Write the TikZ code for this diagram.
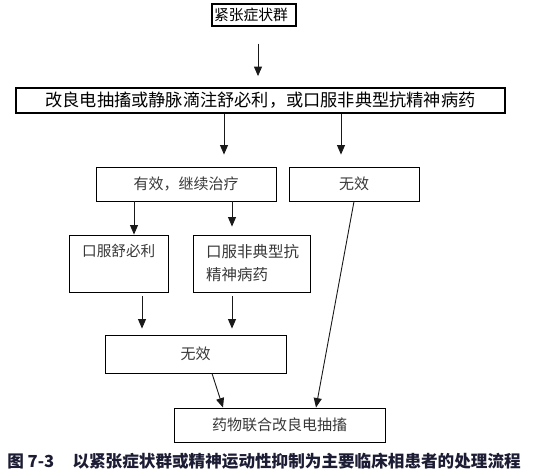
\documentclass[tikz,border=0pt]{standalone}
\usepackage{fontspec}
\setmainfont{Noto Sans CJK SC}
\newfontfamily\cjk{Noto Sans CJK SC}
\usetikzlibrary{arrows.meta, positioning}
\definecolor{capblue}{RGB}{28,28,52}

\begin{document}
\begin{tikzpicture}[
  x=1pt, y=-1pt,
  box/.style={rectangle, draw=black, line width=0.9pt, inner sep=0pt, font=\cjk\fontsize{15}{18}\selectfont, text=black!78},
  widebox/.style={box, line width=1.8pt, text=black, font=\cjk\fontsize{17.2}{20}\selectfont},
  arr/.style={-{Triangle[width=8pt,length=9.5pt]}, line width=0.9pt, black!90}
]
  \useasboundingbox (0,0) rectangle (534,473);

  \node[box, line width=1.2pt, text=black, font=\cjk\fontsize{14.8}{18}\selectfont, minimum width=84pt, minimum height=22pt] (catat) at (254,15) {\hspace*{-6pt}紧张症状群};
  \node[widebox, minimum width=489pt, minimum height=25pt] (treat) at (260.5,100.5) {改良电抽搐或静脉滴注舒必利，或口服非典型抗精神病药};
  \node[box, minimum width=180pt, minimum height=34pt] (good) at (186,184) {有效，继续治疗};
  \node[box, minimum width=130pt, minimum height=34pt] (failA) at (354,184) {无效};
  \node[box, minimum width=99pt, minimum height=57pt] (sulp) at (118.5,263.5) {};
  \node[anchor=north west, inner sep=0pt, font=\cjk\fontsize{14.6}{18}\selectfont, text=black!78] (sulpT) at (82,244) {口服舒必利};
  \node[box, minimum width=117pt, minimum height=57pt] (atyp) at (251.5,263.5) {};
  \node[anchor=north west, inner sep=0pt, align=left, font=\cjk\fontsize{15.5}{23}\selectfont, text=black!78] (atypT) at (206,244) {口服非典型抗\\精神病药};
  \node[box, minimum width=181pt, minimum height=38pt] (failB) at (195.5,354) {无效};
  \node[box, minimum width=211pt, minimum height=34pt] (ect) at (279.5,425) {药物联合改良电抽搐};

  \node[font=\cjk\bfseries\fontsize{16.6}{19}\selectfont, text=capblue, inner sep=0pt] (cap) at (264,461) {图 7-3\hspace{1.1em}以紧张症状群或精神运动性抑制为主要临床相患者的处理流程};

  \draw[arr, shorten <=17pt, shorten >=11pt] ([xshift=4pt]catat.south) -- ([xshift=4pt]catat.south |- treat.north);
  \draw[arr, shorten >=12pt] ([xshift=38pt]good.north |- treat.south) -- ([xshift=38pt]good.north);
  \draw[arr, shorten >=12pt] ([xshift=-13pt]failA.north |- treat.south) -- ([xshift=-13pt]failA.north);
  \draw[arr] ([xshift=15.5pt]sulp.north |- good.south) -- ([xshift=15.5pt]sulp.north);
  \draw[arr, shorten >=8pt] ([xshift=-19.5pt]atyp.north |- good.south) -- ([xshift=-19.5pt]atyp.north);
  \draw[arr, shorten <=4pt, shorten >=6pt] ([xshift=23.5pt]sulp.south) -- ([xshift=23.5pt]sulp.south |- failB.north);
  \draw[arr, shorten <=4pt, shorten >=6pt] ([xshift=-19.5pt]atyp.south) -- ([xshift=-19.5pt]atyp.south |- failB.north);
  \draw[arr] ([xshift=16.5pt]failB.south) -- ([xshift=-56.5pt]ect.north);
  \draw[arr] (failA.south) -- ([xshift=36.5pt]ect.north);
\end{tikzpicture}
\end{document}
